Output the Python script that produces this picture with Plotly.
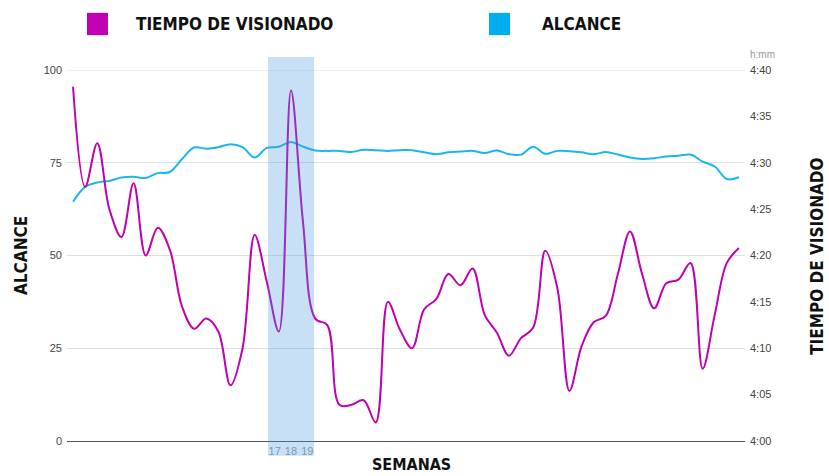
import plotly.graph_objects as go

# ---------------- data ----------------
semanas = list(range(0, 56))

alcance = [64.5, 68.5, 69.7, 70.1, 71.0, 71.2, 70.9, 72.2, 72.5, 76.0,
           79.1, 78.8, 79.2, 80.0, 79.2, 76.4, 79.0, 79.3, 80.6, 79.3,
           78.3, 78.2, 78.2, 77.9, 78.5, 78.4, 78.2, 78.4, 78.4, 77.8,
           77.3, 77.8, 78.0, 78.2, 77.6, 78.3, 77.3, 77.2, 79.3, 77.4,
           78.2, 78.1, 77.8, 77.3, 77.9, 77.2, 76.4, 76.0, 76.2, 76.7,
           76.9, 77.2, 75.3, 74.0, 70.6, 71.1]

# tiempo de visionado in minutes (4:00 = 240)
tiempo_visionado = [278.2, 267.4, 272.1, 265.0, 262.0, 267.8, 260.0, 263.0, 260.6, 254.5,
                    252.1, 253.2, 251.8, 246.0, 250.0, 262.2, 257.2, 251.8, 277.8, 263.5,
                    253.2, 252.5, 243.9, 243.9, 244.4, 242.0, 255.0, 252.0, 250.0, 254.2,
                    255.3, 258.0, 256.8, 258.6, 253.6, 251.7, 249.2, 251.1, 252.2, 260.5,
                    256.5, 245.4, 250.2, 252.8, 253.5, 258.0, 262.6, 258.0, 254.3, 257.0,
                    257.4, 259.2, 247.8, 253.6, 259.2, 260.8]

semanas_destacadas = [17, 18, 19]

alcance_ticks = [0, 25, 50, 75, 100]
tiempo_ticks = list(range(240, 281, 5))
tiempo_ticktext = [f"{t // 60}:{t % 60:02d}" for t in tiempo_ticks]

MAGENTA = "#C100B1"
CYAN = "#00AEEF"
TITLE_FONT = dict(family="DejaVu Sans Condensed, DejaVu Sans, sans-serif",
                  size=17, color="#111111", weight="bold")
TICK_FONT = dict(family="Liberation Sans, Arial, sans-serif", size=11, color="#444444")

fig = go.Figure()

fig.add_trace(go.Scatter(
    x=semanas, y=alcance, name="ALCANCE", mode="lines",
    line=dict(color="#19B6F0", width=2, shape="spline", smoothing=1.0),
    yaxis="y", hoverinfo="skip"))

fig.add_trace(go.Scatter(
    x=semanas, y=tiempo_visionado, name="TIEMPO DE VISIONADO", mode="lines",
    line=dict(color=MAGENTA, width=2, shape="spline", smoothing=1.0),
    yaxis="y2", hoverinfo="skip"))

# top gridline at 100
fig.add_shape(type="line", xref="paper", yref="y", x0=0, x1=1, y0=100, y1=100,
              line=dict(color="#e0e0e0", width=1), layer="below")

# highlight band
fig.add_shape(type="rect", xref="x", yref="paper",
              x0=semanas_destacadas[0] - 0.9, x1=semanas_destacadas[-1] + 0.9,
              y0=-0.040, y1=1.035, line=dict(width=0),
              fillcolor="rgba(68,152,222,0.30)", layer="above")

# legend squares
fig.add_shape(type="rect", xref="paper", yref="paper", x0=0.0295, x1=0.0605,
              y0=1.094, y1=1.154, fillcolor=MAGENTA, line=dict(width=0))
fig.add_shape(type="rect", xref="paper", yref="paper", x0=0.6224, x1=0.6534,
              y0=1.094, y1=1.154, fillcolor=CYAN, line=dict(width=0))

fig.add_annotation(text="TIEMPO DE VISIONADO", xref="paper", yref="paper", x=0.0988, y=1.124,
                   xanchor="left", yanchor="middle", showarrow=False, font=TITLE_FONT)
fig.add_annotation(text="ALCANCE", xref="paper", yref="paper", x=0.6976, y=1.124,
                   xanchor="left", yanchor="middle", showarrow=False, font=TITLE_FONT)

# axis titles
fig.add_annotation(text="ALCANCE", xref="paper", yref="paper", x=-0.0678, y=0.4987,
                   textangle=-90, xanchor="center", yanchor="middle", showarrow=False, font=TITLE_FONT)
fig.add_annotation(text="TIEMPO DE VISIONADO", xref="paper", yref="paper", x=1.106, y=0.4987,
                   textangle=-90, xanchor="center", yanchor="middle", showarrow=False, font=TITLE_FONT)
fig.add_annotation(text="SEMANAS", xref="paper", yref="paper", x=0.508, y=-0.062,
                   xanchor="center", yanchor="middle", showarrow=False,
                   font=dict(TITLE_FONT, size=16))
fig.add_annotation(text="h:mm", xref="paper", yref="paper", x=1.004, y=1.043,
                   xanchor="left", yanchor="middle", showarrow=False,
                   font=dict(family="Liberation Sans, Arial, sans-serif", size=10, color="#999999"))

label_offsets = [-0.35, 0.0, 0.35]

fig.update_layout(
    width=829, height=476,
    margin=dict(l=67, r=84, t=70, b=35),
    plot_bgcolor="white", paper_bgcolor="white",
    showlegend=False,
    xaxis=dict(range=[-0.5, 55.5],
               tickvals=[s + o for s, o in zip(semanas_destacadas, label_offsets)],
               ticktext=[str(s) for s in semanas_destacadas],
               tickangle=0, showgrid=False, zeroline=False,
               showline=True, linecolor="#555555", linewidth=1,
               ticks="", ticklabelstandoff=0,
               tickfont=dict(family="Liberation Sans, Arial, sans-serif", size=11, color="#999999")),
    yaxis=dict(range=[0, 100], tickvals=alcance_ticks, showgrid=True,
               gridcolor="#e0e0e0", gridwidth=1, zeroline=False, showline=False,
               ticks="", ticklabelstandoff=4, tickfont=TICK_FONT),
    yaxis2=dict(range=[240, 280], tickvals=tiempo_ticks, ticktext=tiempo_ticktext,
                overlaying="y", side="right", showgrid=False, zeroline=False,
                showline=False, ticks="", ticklabelstandoff=4, tickfont=TICK_FONT),
)

fig.write_html("out.html", config={"displayModeBar": False},
               post_script="document.body.style.margin='0';")
